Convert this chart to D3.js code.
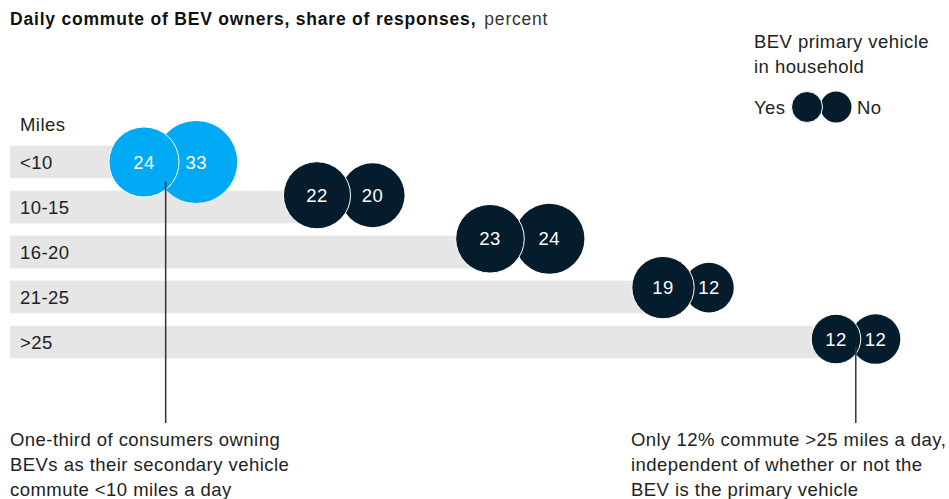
<!DOCTYPE html>
<html>
<head>
<meta charset="utf-8">
<script src="https://cdn.jsdelivr.net/npm/d3@7"></script>
<style>
  html, body { margin: 0; padding: 0; background: #fff; }
  svg { display: block; font-family: "Liberation Sans", Arial, sans-serif; }
  .lbl { font-size: 18.5px; letter-spacing: 0.45px; fill: #222222; }
</style>
</head>
<body>
<svg id="chart" width="949" height="499"></svg>
<script>
// Daily commute of BEV owners, share of responses (percent)
const categories = ["<10", "10-15", "16-20", "21-25", ">25"];
const primaryYes = [24, 22, 23, 19, 12];   // BEV is the primary vehicle
const primaryNo  = [33, 20, 24, 12, 12];   // BEV is a secondary vehicle
const highlightCategory = "<10";

const title = "Daily commute of BEV owners, share of responses,";
const titleUnit = "percent";
const axisTitle = "Miles";
const legendTitle = ["BEV primary vehicle", "in household"];
const legendLabels = ["Yes", "No"];
const notes = [
  { category: "<10", lines: ["One-third of consumers owning", "BEVs as their secondary vehicle", "commute <10 miles a day"] },
  { category: ">25", lines: ["Only 12% commute >25 miles a day,", "independent of whether or not the", "BEV is the primary vehicle"] }
];

const NAVY = "#051c2c", BLUE = "#00a9f4", GREY = "#e6e6e6";

const svg = d3.select("#chart");

const y = d3.scaleBand().domain(categories)
  .range([139.5, 364.5]).paddingInner(0.275).paddingOuter(0.1375);
const x = d3.scalePoint().domain(categories).range([144, 836]);
const r = d3.scaleSqrt().domain([0, 33]).range([0, 41.1]);

const rows = categories.map((c, i) => {
  const rYes = r(primaryYes[i]), rNo = r(primaryNo[i]);
  const hi = c === highlightCategory;
  const overlap = hi ? 24 : 10;
  const cxYes = x(c);
  const cxNo = cxYes + rYes + rNo - overlap;
  const bandMid = y(c) + y.bandwidth() / 2;
  const cy = hi ? bandMid : y(c) + y.bandwidth() + 5.5 - Math.max(rYes, rNo);
  return { c, i, hi, rYes, rNo, cxYes, cxNo, cy, yes: primaryYes[i], no: primaryNo[i] };
});

// Title
svg.append("text").attr("x", 10).attr("y", 25)
  .style("font-size", "17.5px").style("letter-spacing", "0.8px").style("fill", "#111")
  .call(t => {
    t.append("tspan").style("font-weight", "bold").text(title);
    t.append("tspan").attr("dx", 8).style("fill", "#333").text(titleUnit);
  });

// Legend
const lg = svg.append("g");
legendTitle.forEach((s, k) => {
  lg.append("text").attr("class", "lbl").attr("x", 754).attr("y", 48 + k * 25).text(s);
});
lg.append("text").attr("class", "lbl").attr("x", 754).attr("y", 114).text(legendLabels[0]);
lg.append("circle").attr("cx", 836).attr("cy", 107).attr("r", 15.5).attr("fill", NAVY);
lg.append("circle").attr("cx", 807).attr("cy", 107).attr("r", 15.5).attr("fill", NAVY)
  .attr("stroke", "#fff").attr("stroke-width", 1);
lg.append("text").attr("class", "lbl").attr("x", 857).attr("y", 114).text(legendLabels[1]);

// Axis title
svg.append("text").attr("class", "lbl").attr("x", 20).attr("y", 131).text(axisTitle);

// Bars
svg.append("g").selectAll("rect").data(rows).join("rect")
  .attr("x", 10).attr("y", d => y(d.c))
  .attr("width", d => d.cxYes - 10).attr("height", y.bandwidth())
  .attr("fill", GREY);

// Category labels
svg.append("g").selectAll("text").data(rows).join("text")
  .attr("class", "lbl")
  .attr("x", 20).attr("y", d => y(d.c) + y.bandwidth() / 2 + 6.5)
  .text(d => d.c);

// Circles: secondary ("No") below, primary ("Yes") on top
const pairs = svg.append("g").selectAll("g").data(rows).join("g");
pairs.append("circle").attr("cx", d => d.cxNo).attr("cy", d => d.cy).attr("r", d => d.rNo)
  .attr("fill", d => d.hi ? BLUE : NAVY);
pairs.append("circle").attr("cx", d => d.cxYes).attr("cy", d => d.cy).attr("r", d => d.rYes)
  .attr("fill", d => d.hi ? BLUE : NAVY).attr("stroke", "#fff").attr("stroke-width", 1);
pairs.append("text").attr("class", "lbl").attr("x", d => d.cxYes).attr("y", d => d.cy + 6.5)
  .attr("text-anchor", "middle").style("fill", "#fff").text(d => d.yes);
pairs.append("text").attr("class", "lbl").attr("x", d => d.cxNo).attr("y", d => d.cy + 6.5)
  .attr("text-anchor", "middle").style("fill", "#fff").text(d => d.no);

// Callouts from the lower seam of a pair
function seam(d) {
  const dist = d.cxNo - d.cxYes;
  const a = (dist * dist + d.rYes * d.rYes - d.rNo * d.rNo) / (2 * dist);
  const h = Math.sqrt(Math.max(0, d.rYes * d.rYes - a * a));
  return [d.cxYes + a, d.cy + h];
}
notes.forEach(n => {
  const d = rows.find(rw => rw.c === n.category);
  const [sx, sy] = seam(d);
  svg.append("line").attr("x1", sx).attr("x2", sx).attr("y1", sy - 8).attr("y2", 423)
    .attr("stroke", "#333").attr("stroke-width", 1.5);
  const left = n.category === highlightCategory ? 10 : 631;
  n.lines.forEach((s, k) => {
    svg.append("text").attr("class", "lbl").attr("x", left).attr("y", 446 + k * 25).text(s);
  });
});
</script>
</body>
</html>
